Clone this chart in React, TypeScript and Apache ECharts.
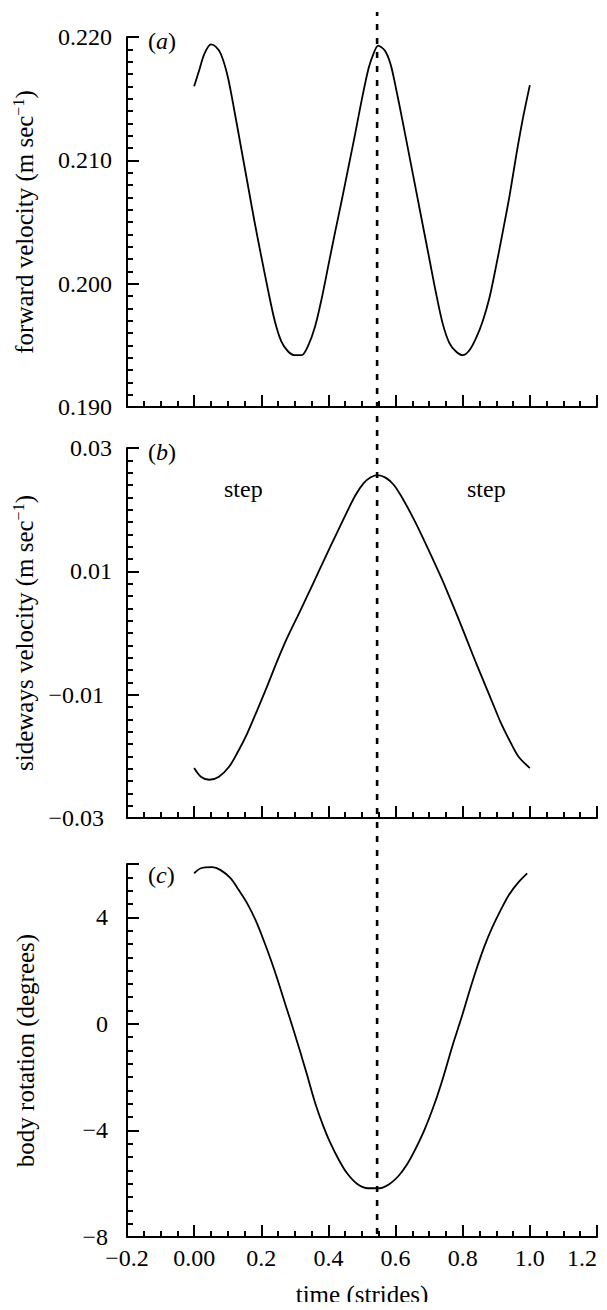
import React, { useEffect, useRef } from "react";
import * as echarts from "echarts";

// ---- data ----
const FWD_T = [0, 0.015, 0.03, 0.05, 0.065, 0.08, 0.1, 0.12, 0.14, 0.16, 0.18, 0.2, 0.22, 0.24, 0.26, 0.28, 0.3, 0.32, 0.34, 0.36, 0.38, 0.4, 0.42, 0.44, 0.46, 0.48, 0.5, 0.52, 0.535, 0.548, 0.568, 0.585, 0.6, 0.62, 0.64, 0.66, 0.68, 0.7, 0.72, 0.74, 0.76, 0.78, 0.8, 0.82, 0.84, 0.86, 0.88, 0.9, 0.92, 0.94, 0.96, 0.98, 1.0];
const FWD_V = [0.216, 0.2173, 0.2186, 0.2194, 0.2192, 0.2186, 0.2168, 0.214, 0.211, 0.208, 0.205, 0.2022, 0.1995, 0.197, 0.1953, 0.1945, 0.1942, 0.1942, 0.195, 0.1965, 0.1988, 0.2015, 0.2042, 0.2068, 0.2095, 0.2122, 0.215, 0.2175, 0.2187, 0.2193, 0.2189, 0.2178, 0.216, 0.2133, 0.2105, 0.2077, 0.2049, 0.2021, 0.1993, 0.1968, 0.1952, 0.1945, 0.1942, 0.1946, 0.1956, 0.197, 0.1989, 0.2015, 0.2043, 0.2072, 0.2105, 0.2135, 0.2161];

const SIDE_T = [0, 0.02, 0.045, 0.074, 0.104, 0.128, 0.158, 0.188, 0.217, 0.247, 0.277, 0.316, 0.355, 0.39, 0.425, 0.455, 0.48, 0.505, 0.525, 0.545, 0.57, 0.595, 0.62, 0.65, 0.68, 0.71, 0.74, 0.77, 0.8, 0.829, 0.859, 0.888, 0.913, 0.943, 0.967, 1.0];
const SIDE_V = [-0.0219, -0.0233, -0.0238, -0.0233, -0.0217, -0.0195, -0.0163, -0.0125, -0.0087, -0.0046, -0.0008, 0.0036, 0.0081, 0.0122, 0.0162, 0.0196, 0.0223, 0.0243, 0.0252, 0.0256, 0.0252, 0.024, 0.0219, 0.0189, 0.0156, 0.0121, 0.0085, 0.0046, 0.0006, -0.0034, -0.0074, -0.0112, -0.0145, -0.0178, -0.0201, -0.0219];

const ROT_T = [0, 0.02, 0.054, 0.079, 0.109, 0.133, 0.158, 0.183, 0.207, 0.23, 0.25, 0.272, 0.296, 0.316, 0.336, 0.36, 0.385, 0.405, 0.43, 0.455, 0.485, 0.518, 0.553, 0.582, 0.608, 0.632, 0.656, 0.686, 0.716, 0.742, 0.77, 0.8, 0.82, 0.84, 0.864, 0.888, 0.913, 0.938, 0.967, 0.992];
const ROT_V = [5.65, 5.84, 5.88, 5.77, 5.46, 5.02, 4.52, 3.89, 3.14, 2.35, 1.6, 0.72, -0.23, -1.05, -1.9, -2.95, -3.85, -4.45, -5.08, -5.6, -6.0, -6.17, -6.17, -6.01, -5.72, -5.32, -4.78, -3.98, -3.0, -2.0, -0.8, 0.38, 1.22, 2.02, 2.89, 3.62, 4.27, 4.85, 5.33, 5.65];

const MARK_T = 0.545;

const X_MIN = -0.2;
const X_MAX = 1.2;
const X_STEP = 0.2;

const PANEL_LABELS = ["a", "b", "c"];
const STEP_LABEL = "step";
const Y_TITLES = ["forward velocity (m sec", "sideways velocity (m sec", "body rotation (degrees)"];
const X_TITLE = "time (strides)";

const FONT = "Liberation Serif";
const FS = 24;
const FS_T = 25;

const minus = (s: string) => s.replace("-", "\u2212");

export default function App() {
  const ref = useRef<HTMLDivElement>(null);
  useEffect(() => {
    if (!ref.current) return;
    const chart = echarts.init(ref.current, undefined, { renderer: "svg" });
    const pairs = (t: number[], v: number[]) => t.map((x, i) => [x, v[i]]);

    const grids = [
      { left: 127, right: 10, top: 37, height: 370 },
      { left: 127, right: 10, top: 448, height: 370 },
      { left: 127, right: 10, top: 864, height: 373 },
      { left: 127, right: 10, top: 12, height: 1222 },
    ];

    const axisLine = { show: true, onZero: false, lineStyle: { color: "#000", width: 2 } };
    const axisTick = { show: true, inside: true, length: 12, lineStyle: { color: "#000", width: 2 } };

    const xAxes: any[] = [0, 1, 2].map((i) => ({
      type: "value",
      gridIndex: i,
      min: X_MIN,
      max: X_MAX,
      interval: X_STEP,
      axisLine,
      axisTick,
      minorTick: { show: true, splitNumber: 4, length: 6, lineStyle: { color: "#000", width: 2 } },
      splitLine: { show: false },
      axisLabel: {
        show: i === 2,
        margin: 9,
        color: "#000",
        fontFamily: FONT,
        fontSize: FS,
        alignMaxLabel: "right",
        formatter: (v: number) => {
          if (Math.abs(v) < 1e-9) return "0.00";
          return minus(v.toFixed(1));
        },
      },
      name: i === 2 ? X_TITLE : "",
      nameLocation: "middle",
      nameGap: 45,
      nameTextStyle: { color: "#000", fontFamily: FONT, fontSize: FS_T },
    }));
    xAxes.push({ type: "value", gridIndex: 3, min: X_MIN, max: X_MAX, show: false });

    const yName = (i: number) =>
      i < 2 ? `{n|${Y_TITLES[i]}}{s|\u22121}{n|)}` : `{n|${Y_TITLES[i]}}`;
    const nameRich = {
      n: { fontFamily: FONT, fontSize: FS_T, color: "#000" },
      s: { fontFamily: FONT, fontSize: 16, color: "#000", verticalAlign: "top", padding: [0, 0, 12, 0] },
    };

    const yCfg = [
      { min: 0.19, max: 0.22, interval: 0.01, split: 10, fmt: (v: number) => v.toFixed(3), margin: 15 },
      { min: -0.03, max: 0.03, interval: 0.02, split: 10, fmt: (v: number) => v.toFixed(2), margin: 15 },
      { min: -8, max: 6, interval: 4, split: 8, fmt: (v: number) => (Math.abs(v - 6) < 1e-9 ? "" : String(Math.round(v))), margin: 19 },
    ];

    const yAxes: any[] = yCfg.map((c, i) => ({
      type: "value",
      gridIndex: i,
      min: c.min,
      max: c.max,
      interval: c.interval,
      axisLine,
      axisTick,
      minorTick: { show: true, splitNumber: c.split, length: 6, lineStyle: { color: "#000", width: 2 } },
      splitLine: { show: false },
      axisLabel: {
        margin: c.margin,
        color: "#000",
        fontFamily: FONT,
        fontSize: FS,
        formatter: (v: number) => {
          const s = c.fmt(v);
          if (i === 1 && v < 0) return `{neg|${minus(s)}}`;
          return minus(s);
        },
        rich: { neg: { fontFamily: FONT, fontSize: FS, color: "#000", padding: [0, 8, 0, 0] } },
      },
      name: yName(i),
      nameLocation: "middle",
      nameGap: 89,
      nameRotate: 90,
      nameTextStyle: { rich: nameRich, fontFamily: FONT, fontSize: FS_T, color: "#000" },
    }));
    yAxes.push({ type: "value", gridIndex: 3, min: 0, max: 1, show: false });

    const lineSeries = (i: number, data: number[][]) => ({
      type: "line",
      xAxisIndex: i,
      yAxisIndex: i,
      data,
      showSymbol: false,
      symbol: "none",
      smooth: 0.3,
      lineStyle: { color: "#000", width: 1.8 },
      z: 3,
    });

    const panelText = (label: string, y: number) => ({
      type: "text",
      left: 148,
      top: y,
      style: {
        text: `{n|(}{i|${label}}{n|)}`,
        rich: {
          n: { fontFamily: FONT, fontSize: FS, fill: "#000" },
          i: { fontFamily: FONT, fontSize: FS, fill: "#000", fontStyle: "italic" },
        },
      },
    });
    const stepText = (x: number, y: number) => ({
      type: "text",
      left: x,
      top: y,
      style: { text: STEP_LABEL, fontFamily: FONT, fontSize: FS, fill: "#000" },
    });

    chart.setOption({
      animation: false,
      backgroundColor: "#fff",
      textStyle: { fontFamily: FONT },
      grid: grids,
      xAxis: xAxes,
      yAxis: yAxes,
      series: [
        lineSeries(0, pairs(FWD_T, FWD_V)),
        lineSeries(1, pairs(SIDE_T, SIDE_V)),
        lineSeries(2, pairs(ROT_T, ROT_V)),
        {
          type: "line",
          xAxisIndex: 3,
          yAxisIndex: 3,
          data: [
            [MARK_T, 0],
            [MARK_T, 1],
          ],
          showSymbol: false,
          symbol: "none",
          lineStyle: { color: "#000", width: 2.6, type: [6, 8] },
          z: 4,
        },
      ],
      graphic: [
        panelText(PANEL_LABELS[0], 29),
        panelText(PANEL_LABELS[1], 440),
        panelText(PANEL_LABELS[2], 863),
        stepText(224, 477),
        stepText(467, 477),
      ],
    });
    return () => chart.dispose();
  }, []);
  return <div ref={ref} style={{ width: 607, height: 1310, margin: -8 }} />;
}
